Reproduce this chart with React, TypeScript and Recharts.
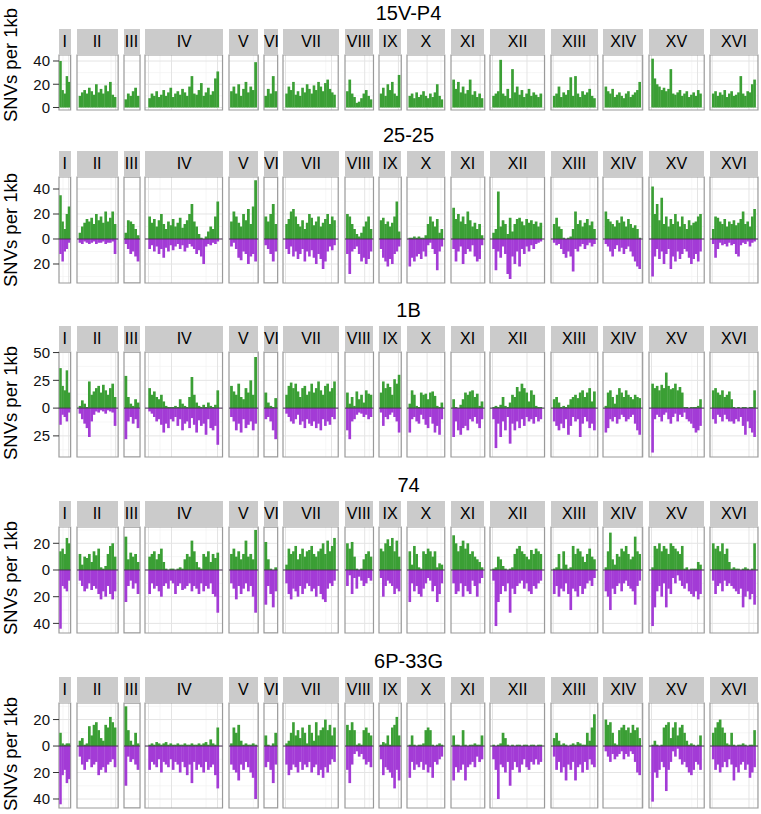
import React from "react";
import {
  Bar,
  BarChart,
  CartesianGrid,
  ReferenceArea,
  ReferenceLine,
  XAxis,
  YAxis,
} from "recharts";

/* ── data: SNVs per 1kb, binned along each chromosome ─────────────────────── */

const CHROMS = ["I", "II", "III", "IV", "V", "VI", "VII", "VIII", "IX", "X", "XI", "XII", "XIII", "XIV", "XV", "XVI"];
const CHROM_KB = [230, 813, 317, 1532, 577, 270, 1091, 563, 440, 746, 667, 1078, 924, 784, 1091, 948];

const UP_15VP4: number[][] = [
  [40, 15, 12, 27, 22],
  [10, 13, 15, 12, 17, 14, 11, 20, 13, 16, 12, 19, 14, 22, 11, 9],
  [7, 12, 10, 14, 17, 10],
  [8, 12, 10, 14, 9, 11, 15, 10, 13, 17, 9, 12, 14, 11, 16, 13, 10, 18, 27, 12, 11, 15, 21, 10, 13, 17, 11, 14, 25, 31],
  [14, 18, 12, 20, 10, 16, 22, 13, 18, 15, 39],
  [10, 16, 12, 27, 14],
  [12, 18, 15, 22, 11, 14, 10, 17, 13, 20, 16, 12, 19, 15, 22, 18, 14, 21, 24, 16, 13, 11],
  [14, 24, 12, 9, 4, 5, 8, 12, 15, 10, 7],
  [12, 17, 10, 20, 15, 22, 12, 10, 28],
  [10, 12, 8, 13, 9, 11, 14, 10, 8, 12, 9, 13, 20, 10, 7],
  [24, 16, 22, 13, 18, 12, 15, 24, 11, 14, 9, 12, 8],
  [10, 12, 14, 41, 12, 10, 16, 8, 33, 13, 18, 11, 15, 9, 12, 16, 10, 13, 11, 9, 12],
  [10, 12, 18, 9, 13, 11, 15, 26, 10, 27, 12, 9, 14, 11, 13, 16, 10, 8],
  [18, 14, 12, 16, 9, 11, 13, 10, 8, 12, 14, 9, 11, 13, 15, 22],
  [42, 25, 20, 18, 15, 17, 14, 16, 33, 12, 11, 13, 15, 10, 12, 14, 9, 11, 13, 10, 15, 12],
  [12, 14, 10, 13, 11, 15, 9, 12, 14, 10, 11, 13, 27, 12, 10, 14, 13, 20, 24],
];

const UP_2525: number[][] = [
  [35, 14, 8, 20, 26],
  [5, 10, 13, 16, 14, 17, 12, 20, 15, 18, 13, 22, 14, 17, 22, 12],
  [5, 15, 14, 12, 8, 3],
  [18, 13, 16, 10, 15, 20, 12, 8, 14, 11, 16, 10, 13, 17, 9, 12, 15, 20, 28, 14, 10, 4, 1, 0, 2, 6, 10, 8, 18, 30],
  [14, 22, 18, 13, 10, 20, 15, 24, 12, 26, 47],
  [18, 14, 20, 28, 12],
  [12, 16, 22, 24, 18, 12, 10, 15, 8, 13, 20, 17, 11, 14, 18, 10, 13, 16, 20, 12, 18, 15],
  [20, 18, 12, 8, 4, 2, 5, 10, 14, 18, 8],
  [15, 17, 12, 14, 10, 13, 18, 30, 6],
  [1, 1, 2, 1, 2, 1, 1, 3, 12, 18, 14, 10, 16, 5, 8],
  [25, 16, 20, 14, 18, 12, 22, 15, 10, 13, 8, 12, 3],
  [5, 8, 38, 10, 15, 12, 4, 17, 6, 12, 16, 17, 14, 11, 16, 13, 15, 12, 14, 10, 13],
  [12, 17, 10, 8, 1, 0, 1, 2, 8, 22, 12, 15, 10, 13, 16, 11, 14, 8],
  [22, 16, 14, 12, 10, 15, 13, 18, 14, 10, 16, 12, 9, 11, 8, 1],
  [42, 20, 28, 15, 33, 12, 18, 10, 16, 12, 20, 14, 10, 18, 12, 8, 15, 11, 13, 14, 18, 20],
  [8, 18, 17, 14, 12, 16, 10, 14, 12, 15, 11, 13, 16, 22, 12, 14, 10, 18, 24],
];
const DOWN_2525: number[][] = [
  [12, 18, 10, 8, 3],
  [3, 4, 2, 3, 4, 3, 2, 4, 3, 3, 2, 4, 3, 3, 2, 12],
  [4, 8, 12, 10, 14, 18],
  [8, 5, 10, 6, 12, 8, 15, 7, 10, 5, 9, 6, 4, 8, 5, 10, 7, 4, 6, 8, 12, 9, 14, 20, 6, 4, 5, 3, 4, 2],
  [6, 3, 8, 15, 17, 10, 12, 20, 14, 12, 18],
  [5, 8, 12, 18, 10],
  [8, 12, 6, 14, 10, 16, 12, 8, 18, 10, 14, 9, 15, 20, 12, 16, 24, 18, 10, 6, 9, 5],
  [12, 28, 10, 8, 6, 12, 18, 15, 20, 16, 10],
  [8, 15, 18, 22, 16, 20, 12, 10, 6],
  [22, 15, 18, 14, 12, 16, 10, 14, 5, 3, 8, 12, 25, 10, 6],
  [8, 18, 10, 6, 20, 12, 8, 10, 5, 14, 18, 16, 5],
  [8, 25, 10, 15, 6, 12, 28, 32, 14, 20, 10, 22, 8, 12, 6, 10, 5, 8, 4, 3, 2],
  [3, 5, 4, 8, 12, 15, 10, 14, 26, 8, 10, 6, 4, 8, 5, 3, 6, 4],
  [4, 6, 10, 14, 8, 5, 10, 7, 12, 8, 6, 10, 14, 18, 22, 24],
  [30, 14, 8, 16, 10, 20, 12, 8, 24, 14, 18, 10, 16, 12, 8, 10, 15, 20, 16, 12, 18, 10],
  [4, 15, 8, 3, 5, 4, 6, 3, 5, 4, 12, 14, 5, 3, 4, 2, 6, 3, 2],
];

const UP_1B: number[][] = [
  [36, 20, 16, 34, 14],
  [2, 7, 4, 1, 24, 12, 15, 18, 20, 14, 21, 16, 12, 18, 22, 10],
  [29, 10, 4, 2, 8, 5],
  [18, 12, 15, 10, 8, 12, 6, 2, 1, 1, 1, 2, 1, 8, 4, 2, 1, 10, 28, 12, 5, 2, 1, 3, 1, 5, 2, 1, 3, 16],
  [20, 15, 12, 22, 10, 8, 18, 14, 25, 12, 46],
  [14, 5, 2, 1, 9],
  [12, 20, 23, 18, 22, 15, 10, 18, 20, 12, 15, 22, 14, 18, 24, 16, 12, 20, 22, 15, 18, 24],
  [14, 4, 10, 2, 15, 8, 12, 5, 16, 13, 12],
  [14, 24, 18, 22, 19, 12, 26, 22, 30],
  [4, 16, 12, 2, 1, 14, 12, 13, 8, 14, 15, 11, 2, 1, 5],
  [8, 1, 0, 3, 8, 14, 12, 15, 16, 10, 13, 2, 6],
  [1, 2, 1, 3, 10, 2, 1, 5, 12, 10, 19, 15, 22, 18, 14, 6, 16, 12, 2, 1, 1],
  [8, 10, 5, 1, 2, 1, 3, 8, 10, 12, 9, 14, 16, 10, 14, 18, 6, 15],
  [2, 14, 16, 10, 4, 12, 18, 14, 10, 16, 12, 10, 8, 12, 10, 9],
  [22, 18, 20, 16, 21, 18, 32, 20, 17, 18, 22, 16, 19, 14, 1, 1, 0, 1, 1, 1, 2, 8],
  [16, 18, 14, 12, 16, 10, 12, 15, 8, 1, 0, 1, 0, 1, 1, 0, 1, 1, 16],
];
const DOWN_1B: number[][] = [
  [15, 6, 8, 12, 4],
  [5, 10, 14, 18, 26, 12, 6, 3, 4, 2, 3, 5, 2, 3, 4, 16],
  [28, 12, 8, 14, 10, 18],
  [3, 5, 8, 12, 10, 15, 22, 14, 18, 10, 12, 8, 16, 10, 20, 14, 12, 18, 9, 15, 22, 11, 16, 14, 24, 10, 18, 20, 16, 33],
  [8, 12, 20, 14, 22, 10, 18, 15, 12, 20, 14],
  [10, 8, 12, 20, 28],
  [5, 8, 12, 14, 10, 6, 15, 12, 18, 10, 14, 16, 12, 18, 14, 20, 10, 16, 12, 15, 8, 10],
  [20, 28, 12, 10, 6, 4, 5, 8, 6, 10, 8],
  [4, 16, 8, 10, 6, 4, 8, 12, 22],
  [22, 10, 8, 12, 14, 6, 10, 15, 18, 8, 14, 22, 16, 24, 10],
  [26, 12, 20, 24, 18, 16, 20, 10, 12, 8, 14, 18, 10],
  [10, 36, 14, 26, 12, 20, 8, 32, 14, 20, 12, 18, 10, 16, 8, 12, 10, 14, 8, 12, 10],
  [12, 16, 20, 14, 18, 10, 24, 16, 8, 12, 10, 26, 14, 8, 12, 18, 14, 20],
  [22, 18, 10, 12, 8, 14, 10, 6, 8, 12, 10, 8, 6, 14, 20, 24],
  [40, 10, 6, 8, 12, 6, 4, 10, 14, 8, 5, 12, 6, 8, 4, 10, 12, 14, 18, 22, 20, 16],
  [10, 14, 6, 8, 12, 6, 10, 12, 12, 14, 10, 12, 8, 16, 24, 12, 18, 22, 26],
];

const UP_74: number[][] = [
  [14, 16, 12, 24, 20],
  [12, 4, 10, 9, 12, 6, 14, 11, 16, 2, 1, 3, 12, 18, 20, 10],
  [25, 8, 13, 10, 12, 6],
  [10, 12, 14, 8, 12, 16, 6, 1, 0, 1, 1, 0, 1, 2, 1, 8, 12, 10, 22, 14, 6, 2, 1, 12, 10, 14, 6, 12, 9, 13],
  [12, 16, 10, 14, 8, 12, 22, 10, 12, 8, 30],
  [21, 8, 1, 0, 2],
  [4, 16, 12, 14, 18, 8, 12, 16, 10, 14, 15, 18, 12, 10, 14, 16, 20, 12, 22, 14, 18, 24],
  [20, 16, 21, 10, 1, 0, 1, 8, 12, 14, 10],
  [16, 14, 20, 23, 18, 24, 14, 22, 10],
  [14, 4, 18, 12, 2, 1, 14, 12, 16, 14, 10, 14, 2, 5, 4],
  [26, 20, 14, 18, 22, 16, 20, 12, 14, 10, 8, 6, 2],
  [1, 2, 10, 8, 3, 1, 0, 1, 2, 12, 16, 18, 14, 12, 10, 8, 15, 12, 16, 14, 12],
  [1, 2, 12, 1, 14, 4, 1, 2, 18, 12, 16, 14, 10, 6, 12, 16, 10, 8],
  [2, 14, 28, 8, 4, 12, 10, 16, 14, 18, 12, 8, 10, 25, 14, 12],
  [2, 18, 16, 20, 14, 18, 16, 12, 20, 18, 16, 14, 12, 18, 1, 2, 0, 1, 1, 1, 6, 4],
  [20, 16, 18, 14, 20, 12, 16, 6, 1, 2, 1, 1, 0, 1, 2, 1, 0, 1, 20],
];
const DOWN_74: number[][] = [
  [44, 12, 14, 16, 8],
  [8, 12, 16, 14, 10, 15, 12, 14, 18, 22, 16, 20, 12, 18, 22, 16],
  [24, 12, 8, 14, 10, 18],
  [18, 10, 14, 12, 16, 20, 12, 10, 14, 8, 10, 18, 12, 10, 15, 14, 12, 10, 16, 12, 14, 18, 10, 16, 12, 14, 10, 18, 20, 32],
  [10, 14, 22, 12, 18, 14, 10, 16, 12, 20, 32],
  [26, 12, 18, 28, 16],
  [10, 18, 22, 14, 16, 20, 12, 18, 14, 10, 12, 16, 14, 20, 12, 18, 22, 24, 14, 10, 12, 8],
  [12, 4, 18, 6, 14, 5, 8, 12, 10, 6, 8],
  [6, 20, 12, 8, 10, 12, 18, 14, 16],
  [24, 10, 16, 12, 18, 20, 14, 10, 6, 8, 16, 12, 24, 18, 10],
  [10, 18, 16, 10, 20, 12, 16, 18, 8, 12, 20, 10, 6],
  [8, 42, 24, 18, 12, 16, 10, 32, 14, 18, 12, 10, 8, 14, 10, 16, 18, 12, 14, 10, 8],
  [18, 12, 20, 14, 16, 10, 18, 30, 14, 16, 20, 12, 18, 14, 10, 8, 12, 6],
  [16, 20, 30, 14, 18, 12, 10, 16, 10, 8, 12, 14, 16, 26, 12, 8],
  [42, 28, 16, 12, 20, 10, 28, 14, 18, 6, 10, 4, 8, 12, 14, 10, 16, 18, 20, 16, 22, 18],
  [8, 18, 12, 10, 16, 8, 12, 10, 12, 14, 16, 18, 14, 28, 20, 16, 22, 18, 26],
];

const UP_6P33G: number[][] = [
  [10, 2, 1, 2, 2],
  [4, 6, 1, 2, 15, 8, 16, 18, 12, 6, 4, 16, 14, 22, 18, 14],
  [30, 12, 4, 1, 10, 2],
  [1, 2, 1, 3, 2, 1, 2, 3, 1, 2, 1, 1, 2, 1, 1, 2, 1, 1, 2, 1, 1, 2, 1, 2, 3, 1, 5, 2, 1, 14],
  [2, 14, 10, 16, 4, 1, 2, 1, 1, 2, 1],
  [8, 1, 0, 2, 10],
  [2, 4, 10, 18, 8, 12, 6, 14, 10, 2, 16, 10, 4, 18, 8, 12, 14, 20, 12, 16, 8, 14],
  [16, 12, 18, 12, 1, 2, 1, 12, 14, 10, 8],
  [1, 3, 2, 8, 1, 14, 16, 22, 8],
  [1, 8, 1, 0, 1, 1, 2, 12, 14, 12, 1, 0, 1, 2, 1],
  [8, 1, 1, 0, 12, 1, 0, 1, 1, 2, 1, 1, 8],
  [1, 0, 1, 2, 10, 6, 1, 0, 1, 0, 1, 1, 0, 1, 1, 0, 1, 1, 0, 1, 1],
  [6, 10, 4, 1, 2, 1, 0, 1, 2, 1, 3, 2, 1, 1, 10, 4, 14, 24],
  [20, 16, 18, 10, 2, 1, 12, 14, 16, 12, 14, 10, 16, 12, 14, 6],
  [1, 4, 1, 0, 1, 14, 16, 18, 6, 14, 18, 8, 14, 16, 10, 4, 1, 2, 1, 0, 1, 8],
  [10, 14, 18, 20, 14, 10, 2, 1, 10, 1, 0, 1, 1, 2, 1, 0, 1, 1, 12],
];
const DOWN_6P33G: number[][] = [
  [44, 22, 18, 28, 25],
  [8, 14, 18, 12, 10, 16, 14, 12, 22, 18, 16, 20, 14, 12, 10, 16],
  [30, 8, 12, 10, 14, 18],
  [18, 12, 14, 16, 10, 20, 12, 14, 16, 10, 18, 12, 14, 20, 12, 16, 22, 14, 28, 12, 18, 14, 16, 20, 12, 18, 16, 14, 22, 32],
  [14, 18, 20, 26, 14, 18, 12, 16, 20, 24, 40],
  [16, 12, 18, 28, 14],
  [14, 22, 18, 14, 16, 20, 12, 18, 14, 16, 12, 20, 16, 14, 22, 18, 24, 16, 20, 14, 10, 12],
  [18, 28, 14, 6, 4, 8, 6, 10, 14, 12, 16],
  [10, 22, 16, 18, 20, 24, 32, 18, 26],
  [24, 12, 18, 14, 16, 12, 18, 14, 20, 16, 24, 12, 14, 10, 8],
  [26, 16, 20, 18, 14, 26, 16, 14, 12, 16, 8, 12, 10],
  [10, 18, 40, 14, 16, 20, 12, 30, 18, 12, 16, 20, 14, 10, 16, 18, 12, 14, 10, 14, 12],
  [8, 18, 12, 20, 16, 26, 14, 18, 12, 26, 16, 14, 20, 12, 18, 10, 14, 16],
  [4, 8, 12, 6, 10, 8, 6, 4, 10, 6, 8, 4, 6, 12, 20, 22],
  [42, 20, 24, 18, 12, 16, 34, 18, 12, 4, 8, 2, 10, 14, 12, 16, 20, 22, 18, 12, 14, 18],
  [10, 18, 14, 20, 16, 12, 16, 10, 14, 26, 16, 20, 14, 12, 18, 14, 24, 20, 16],
];

/* ── layout & style ────────────────────────────────────────────────────────── */

const GREEN = "#3b9f35";
const PURPLE = "#a33bd6";
const FONT = "'Liberation Sans', Arial, Helvetica, sans-serif";

const X0 = 59;
const X1 = 758;
const GAP = 5.87;
const TOTAL_KB = CHROM_KB.reduce((a, b) => a + b, 0);
const PX_PER_KB = (X1 - X0 - GAP * (CHROMS.length - 1)) / TOTAL_KB;
const M = 2; // side margin around each panel so the border is not clipped
const MV_AXIS = 12; // extra room above/below for the y tick labels
const AXIS_W = 45;
const STRIP_H = 25;

type Row = {
  title: string;
  up: number[][];
  down: number[][] | null;
  top: number;
  bottom: number;
  domain: [number, number];
  ticks: number[];
  minor: number[];
  labelY: number;
};

const ROWS: Row[] = [
  { title: "15V-P4", up: UP_15VP4, down: null, top: 55, bottom: 110, domain: [-2.15, 45.15], ticks: [0, 20, 40], minor: [10, 30], labelY: 65 },
  { title: "25-25", up: UP_2525, down: DOWN_2525, top: 177, bottom: 283, domain: [-35.2, 49.6], ticks: [-20, 0, 20, 40], minor: [-30, -10, 10, 30], labelY: 230 },
  { title: "1B", up: UP_1B, down: DOWN_1B, top: 352, bottom: 457, domain: [-44, 50.5], ticks: [-25, 0, 25, 50], minor: [-37.5, -12.5, 12.5, 37.5], labelY: 403 },
  { title: "74", up: UP_74, down: DOWN_74, top: 527, bottom: 633, domain: [-47.2, 32.2], ticks: [-40, -20, 0, 20], minor: [-30, -10, 10, 30], labelY: 578 },
  { title: "6P-33G", up: UP_6P33G, down: DOWN_6P33G, top: 703, bottom: 808, domain: [-46.8, 32.5], ticks: [-40, -20, 0, 20], minor: [-30, -10, 10, 30], labelY: 754 },
];

function panelLeft(i: number): number {
  const cum = CHROM_KB.slice(0, i).reduce((a, b) => a + b, 0);
  return X0 + i * GAP + cum * PX_PER_KB;
}

function xBreaks(len: number): { major: number[]; minor: number[] } {
  const steps = [50, 100, 200, 250, 500];
  const step = steps.find((s) => len / s <= 5) ?? 500;
  const major: number[] = [];
  const minor: number[] = [];
  for (let v = 0; v <= len * 1.05; v += step) major.push(v);
  for (let v = step / 2; v <= len * 1.05; v += step) minor.push(v);
  return { major, minor };
}

// bar drawn at the library's position, widened a touch so neighbours meet
function binShape(fill: string, size: number) {
  return (props: any) => {
    const { x, y, width, height } = props;
    if (!height || !isFinite(height)) return <g />;
    const cx = x + width / 2;
    return (
      <rect
        x={cx - size / 2}
        y={Math.min(y, y + height)}
        width={size}
        height={Math.abs(height)}
        fill={fill}
      />
    );
  };
}

function Panel({ row, ci }: { row: Row; ci: number }) {
  const len = CHROM_KB[ci];
  const up = row.up[ci];
  const down = row.down ? row.down[ci] : null;
  const n = up.length;
  const bin = len / n;
  const data = up.map((v, i) => ({
    x: (i + 0.5) * bin,
    g: v,
    p: down ? -down[i] : 0,
  }));
  const w = len * PX_PER_KB;
  const h = row.bottom - row.top;
  const lo = -0.05 * len;
  const hi = 1.05 * len;
  const binPx = (bin * w) / (hi - lo);
  const withAxis = ci === 0;
  const extra = withAxis ? AXIS_W : 0;
  const mv = withAxis ? MV_AXIS : M;
  const { major, minor } = xBreaks(len);

  return (
    <div
      style={{
        position: "absolute",
        left: panelLeft(ci) - M - extra,
        top: row.top - mv,
      }}
    >
      <BarChart
        width={w + 2 * M + extra}
        height={h + 2 * mv}
        data={data}
        margin={{ top: mv, right: M, bottom: mv, left: M }}
        stackOffset="sign"
        barCategoryGap={0}
        barGap={0}
      >
        <CartesianGrid stroke="#f2f2f2" strokeWidth={0.7} horizontalValues={row.minor} verticalValues={minor} />
        <CartesianGrid stroke="#e4e4e4" strokeWidth={1} horizontalValues={row.ticks} verticalValues={major} />
        <XAxis type="number" dataKey="x" domain={[lo, hi]} allowDataOverflow hide />
        <YAxis
          type="number"
          domain={row.domain}
          allowDataOverflow
          hide={!withAxis}
          width={AXIS_W}
          ticks={row.ticks}
          interval={0}
          tickFormatter={(v: number) => String(Math.abs(v))}
          axisLine={false}
          tickLine={{ stroke: "#333333" }}
          tickSize={6}
          tickMargin={3}
          tick={{ fill: "#111111", fontSize: 15, fontFamily: FONT }}
        />
        <Bar
          dataKey="g"
          stackId="s"
          fill={GREEN}
          barSize={binPx * 0.95}
          shape={binShape(GREEN, binPx + 0.35)}
          isAnimationActive={false}
        />
        {down && (
          <Bar
            dataKey="p"
            stackId="s"
            fill={PURPLE}
            barSize={binPx * 0.95}
            shape={binShape(PURPLE, binPx + 0.35)}
            isAnimationActive={false}
          />
        )}
        {down && <ReferenceLine y={0} stroke="#4a3157" strokeWidth={1} />}
        <ReferenceArea x1={lo} x2={hi} y1={row.domain[0]} y2={row.domain[1]} fill="none" stroke="#9a9a9a" strokeWidth={1.2} />
      </BarChart>
    </div>
  );
}

function SampleRow({ row }: { row: Row }) {
  return (
    <>
      <div
        style={{
          position: "absolute",
          left: (X0 + X1) / 2,
          top: row.top - STRIP_H - 17,
          transform: "translate(-50%, -50%)",
          fontSize: 20,
          whiteSpace: "nowrap",
        }}
      >
        {row.title}
      </div>
      <div
        style={{
          position: "absolute",
          left: 11,
          top: row.labelY,
          transform: "translate(-50%, -50%) rotate(-90deg)",
          fontSize: 18.5,
          whiteSpace: "nowrap",
        }}
      >
        SNVs per 1kb
      </div>
      {CHROMS.map((c, ci) => (
        <div
          key={c}
          style={{
            position: "absolute",
            left: panelLeft(ci),
            top: row.top - STRIP_H - 1,
            width: CHROM_KB[ci] * PX_PER_KB,
            height: STRIP_H,
            lineHeight: `${STRIP_H}px`,
            background: "#cbcbcb",
            textAlign: "center",
            fontSize: 16,
            whiteSpace: "nowrap",
            overflow: "visible",
          }}
        >
          {c}
        </div>
      ))}
      {CHROMS.map((c, ci) => (
        <Panel key={c} row={row} ci={ci} />
      ))}
    </>
  );
}

export default function App() {
  return (
    <div
      style={{
        position: "absolute",
        left: 0,
        top: 0,
        width: 761,
        height: 814,
        background: "#ffffff",
        fontFamily: FONT,
        color: "#000000",
        overflow: "hidden",
      }}
    >
      {ROWS.map((r) => (
        <SampleRow key={r.title} row={r} />
      ))}
    </div>
  );
}
